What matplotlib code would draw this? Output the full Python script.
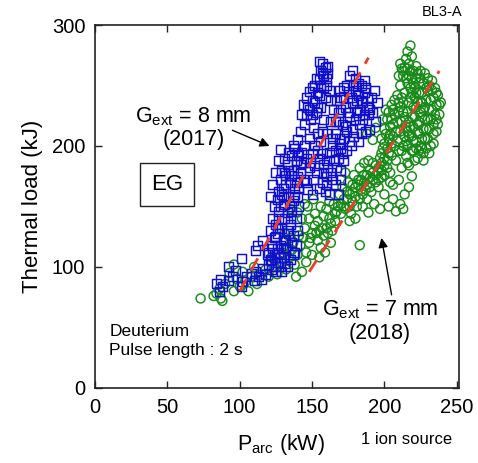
import matplotlib
matplotlib.use("Agg")
import matplotlib.pyplot as plt

plt.rcParams['font.family'] = ['Liberation Sans', 'DejaVu Sans']

# G_ext = 8 mm (2017) -- blue squares
blue_pts = [
    (86,80),(88,84),(87,90),(92,89),(92,100),(84,86),(95,92),(101,84),(102,88),(101,107),
    (97,97),(105,92),(108,95),(110,89),(111,96),(111,114),(113,92),(115,90),(116,99),(118,94),
    (120,102),(122,98),(125,96),(126,104),(128,100),(131,103),(116,122),(112,118),(119,110),
    (124,108),(127,112),(130,108),
    (120,112),(122,118),(124,124),(121,130),(125,135),(123,140),(126,128),(128,118),(130,122),
    (132,115),(129,132),(131,140),(127,146),(124,150),(126,156),(129,160),(131,152),(133,145),
    (135,135),(134,128),(136,120),(138,112),(137,126),(139,140),(136,150),(134,158),(130,165),
    (128,172),(132,176),(135,170),(138,165),(140,158),(137,180),(133,185),(129,180),(125,178),
    (123,168),(121,158),(140,175),(139,188),(136,192),(131,190),(127,188),(128.5,197),
    (122,105),(124,110),(126,115),(128,108),(130,116),(132,122),(133,130),(135,140),(136,146),
    (137,155),(138,160),(139,170),(136,176),(134,180),(132,168),(130,158),(128,150),(127,140),
    (126,132),(125,125),(123,115),(121,106),(125,100),(129,96),(133,100),(135,106),(137,110),
    (139,118),(140,130),(141,150),(141,165),(142,185),(140,195),(137,200),(134,195),(131,178),
    (127,162),
    (138,198),(141,192),(144,186),(142,178),(146,170),(148,182),(150,194),(145,200),(140,205),
    (148,206),(152,200),(155,190),(153,178),(157,170),(159,162),(160,175),(158,185),(162,195),
    (165,188),(163,178),(166,168),(168,160),(170,172),(167,182),(171,194),(169,202),(164,206),
    (156,204),(160,168),(162,160),(155,165),(151,172),
    (143,195),(146,190),(149,186),(152,184),(154,196),(157,194),(160,188),(161,182),(164,172),
    (158,178),(150,160),(147,164),(144,172),
    (142,212),(145,218),(143,226),(147,232),(149,222),(151,215),(153,228),(150,238),(148,245),
    (152,250),(155,242),(156,232),(158,222),(157,212),(154,210),(146,240),(144,234),
    (146,226),(148,230),(150,226),(152,236),(154,232),(156,250),(153,256),(157,260),(160,256),
    (161,266),(155,270),(150,248),
    (155,255),(156,262),(157,268),(158,258),(159,265),(160,250),(161,260),(162,246),(159,240),
    (163,238),(158,248),(154,244),
    (166,210),(168,220),(170,230),(172,240),(174,250),(176,258),(178,262),(175,245),(173,232),
    (171,218),(169,206),(174,212),(176,224),(178,236),(180,246),(182,252),(181,228),(183,218),
    (179,208),(184,238),(186,244),(188,232),(185,222),(187,212),(189,226),(191,240),(193,246),
    (195,236),(192,228),(194,220),(190,214),(177,200),(182,204),
    (165,230),(163,220),(161,210),(167,238),(169,246),
    (170,198),(172,206),(173,216),(175,228),(177,240),(179,250),(180,256),(181,238),(183,230),
    (185,236),(187,248),(184,250),(182,242),(180,222),(178,214),(176,204),(174,196),(172,188),
    (170,180),(168,190),(166,196),(164,200),(166,220),(168,228),(170,240),(172,248),(186,254),
    (188,240),(190,230),(186,226),(184,210),
]

# G_ext = 7 mm (2018) -- green circles
green_pts = [
    (73,74),(82,76),(84,78),(87,74),(88,72),(86,82),(90,86),(96,80),(100,84),(98,90),(104,88),
    (106,80),(108,92),(93,95),(102,96),(110,100),(96,102),
    (112,86),(115,94),(118,98),(120,92),(124,100),(122,108),(126,94),(129,104),(132,98),(134,108),
    (136,114),(138,102),(140,110),(142,118),(144,124),(146,112),(148,120),(150,128),(152,134),
    (154,122),(156,116),(158,126),(160,132),(162,140),(164,130),(166,138),(145,132),(141,126),
    (137,120),(133,116),(130,112),(148,140),(152,144),(156,150),(158,142),(160,148),(162,154),
    (154,138),(150,110),(146,104),(143,96),(139,92),(135,124),(131,128),(143,140),(147,150),
    (151,156),(155,108),(159,112),(163,120),(167,146),(165,152),(135,148),(140,145),(145,152),
    (168,150),(170,144),(172,156),(174,162),(176,150),(178,168),(180,158),(182,172),(184,164),
    (186,176),(188,168),(190,180),(192,172),(194,184),(196,178),(198,186),(200,176),(202,182),
    (204,170),(185,150),(180,140),(176,138),(188,156),(191,162),(196,166),(200,160),(183,182),
    (179,176),(175,170),(171,166),(173,178),(169,160),(186,186),(189,145),(193,152),(197,148),
    (183,118),
    (172,150),(174,156),(176,160),(178,162),(180,166),(182,168),(184,172),(186,170),(188,176),
    (190,174),(192,178),(194,176),(196,182),(198,180),(200,184),(185,160),(187,164),(183,156),
    (181,150),(178,154),(190,166),(194,170),(196,172),(198,174),(192,186),(189,188),(202,188),
    (204,178),(177,144),(173,148),(170,152),(166,144),(163,136),(161,128),(157,132),(153,128),
    (149,124),(155,130),
    (203,150),(206,156),(208,146),(211,152),(214,160),(217,166),(206,168),(210,172),(219,175),
    (213,148),
    (197,190),(199,198),(198,206),(200,214),(202,222),(201,230),(203,194),(205,202),(204,210),
    (206,218),(207,226),(205,234),(208,188),(210,196),(209,204),(211,212),(212,220),(213,228),
    (210,236),(214,244),(215,192),(216,200),(217,208),(218,216),(219,224),(220,232),(218,240),
    (221,248),(222,256),(220,196),(222,204),(223,212),(224,220),(225,228),(226,236),(224,244),
    (227,252),(228,260),(223,190),(226,198),(228,206),(229,214),(230,222),(231,230),(232,238),
    (230,246),(233,254),(234,218),(235,226),(236,234),(237,242),(234,210),(232,200),(216,252),
    (213,258),(211,250),(218,262),(225,262),(229,248),(236,212),(238,226),(217,184),(212,182),
    (227,188),(188,210),(192,205),(194,215),
    (198,194),(200,190),(202,198),(203,206),(201,210),(204,216),(205,222),(203,228),(206,230),
    (207,238),(209,242),(208,212),(209,220),(210,228),(211,232),(212,240),(213,236),(214,224),
    (215,216),(214,208),(213,200),(212,196),(215,204),(216,212),(217,220),(216,228),(217,236),
    (219,244),(220,252),(218,248),(219,208),(220,216),(221,224),(222,232),(221,240),(223,236),
    (222,244),(224,252),(225,256),(223,260),(226,244),(227,230),(228,222),(227,214),(226,206),
    (225,200),(227,194),(229,198),(230,206),(231,214),(232,222),(233,230),(234,240),(235,248),
    (233,246),(231,250),(230,256),(229,238),(228,232),(236,222),(237,218),(238,234),(236,244),
    (239,236),(234,202),(231,194),(224,196),(221,188),(219,196),(216,186),(207,200),(206,208),
    (205,192),(200,202),(199,222),(210,258),(212,264),(220,262),(222,266),(215,256),(217,258),
    (216,264),(219,256),(225,236),(226,224),(223,218),(224,210),(222,198),(220,204),
    (218,283),(216,278),(215,272),(217,268),(214,265),(219,274),(213,262),(211,268),
]

# Fit lines (red dashed)
fit8_x = [100, 189]
fit8_y = [80, 273]
fit7_x = [148, 238]
fit7_y = [96, 262]

x_ticks = [0, 50, 100, 150, 200, 250]
y_ticks = [0, 100, 200, 300]

fig = plt.figure(figsize=(4.78, 4.63), dpi=100)
ax = fig.add_axes([0.1987, 0.162, 0.7613, 0.784])

bx = [p[0] for p in blue_pts]
by = [p[1] for p in blue_pts]
gx = [p[0] for p in green_pts]
gy = [p[1] for p in green_pts]

ax.scatter(gx, gy, s=42, marker='o', facecolors='none', edgecolors='#178a17',
           linewidths=1.05, zorder=2)
ax.scatter(bx, by, s=42, marker='s', facecolors='none', edgecolors='#1010cc',
           linewidths=1.05, zorder=3)

ax.plot(fit8_x, fit8_y, color='#e8402a', lw=2.0, dashes=(5, 3.5), zorder=4)
ax.plot(fit7_x, fit7_y, color='#e8402a', lw=2.0, dashes=(5, 3.5), zorder=4)

ax.set_xlim(0, 251.5)
ax.set_ylim(0, 300)
ax.set_xticks(x_ticks)
ax.set_yticks(y_ticks)
ax.tick_params(direction='in', length=5, width=1, top=True, right=True,
               labelsize=14.5, pad=7, colors='#222222', labelcolor='black')
for s in ax.spines.values():
    s.set_linewidth(1.2)
    s.set_color('#222222')

ax.set_ylabel('Thermal load (kJ)', fontsize=16, labelpad=6)
ax.set_xlabel(r'P$_{\mathregular{arc}}$ (kW)', fontsize=15.5, labelpad=4)
ax.xaxis.set_label_coords(0.51, -0.12)

fig.text(0.925, 0.975, 'BL3-A', fontsize=10.5, ha='center', va='center')
fig.text(0.85, 0.05, '1 ion source', fontsize=12, ha='center', va='center')

ax.text(68, 215, 'G$_{\\mathregular{ext}}$ = 8 mm\n(2017)', fontsize=15.5,
        ha='center', va='center', linespacing=1.1)
ax.annotate('', xy=(120.6, 200), xytext=(95, 213),
            arrowprops=dict(arrowstyle='-|>', color='black', lw=1.0,
                            shrinkA=0, shrinkB=0, mutation_scale=14))
ax.text(197, 55, 'G$_{\\mathregular{ext}}$ = 7 mm\n(2018)', fontsize=15.5,
        ha='center', va='center', linespacing=1.1)
ax.annotate('', xy=(198, 124), xytext=(205, 77),
            arrowprops=dict(arrowstyle='-|>', color='black', lw=1.0,
                            shrinkA=0, shrinkB=0, mutation_scale=14))

ax.text(50, 168, 'EG', fontsize=16, ha='center', va='center',
        bbox=dict(boxstyle='square,pad=0.5', facecolor='white', edgecolor='#222222', lw=1.0))

ax.text(10, 39, 'Deuterium\nPulse length : 2 s', fontsize=12.5, ha='left', va='center',
        linespacing=1.3)

fig.savefig('out.png', dpi=100)
